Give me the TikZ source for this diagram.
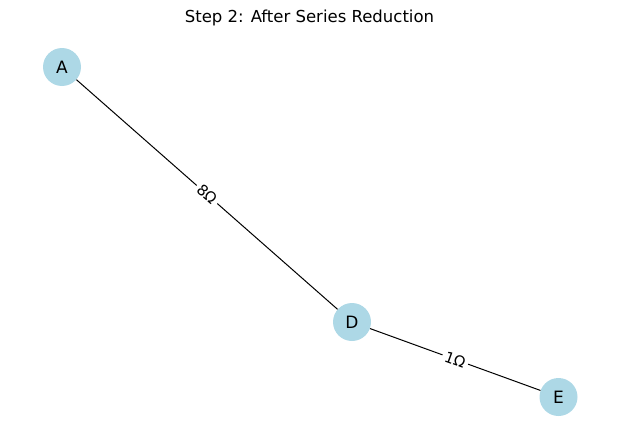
\documentclass[tikz,border=0pt]{standalone}
\usepackage{fontspec}
\setmainfont{DejaVu Sans}
\definecolor{nodeblue}{RGB}{173,216,230}
\begin{document}
\begin{tikzpicture}[x=1pt,y=-1pt,
  vertex/.style={circle,fill=nodeblue,minimum size=38pt,inner sep=0pt,font=\fontsize{17}{19}\selectfont},
  wire/.style={draw=black,line width=1pt},
  elabel/.style={fill=white,inner sep=3pt,font=\fontsize{15}{17}\selectfont}]
\useasboundingbox (0,0) rectangle (619,442);
\node (title) at (309.5,18) {\fontsize{16.5}{18}\selectfont Step 2: After Series Reduction};
\node[vertex] (A) at (62,67) {A};
\node[vertex] (D) at (352,322) {D};
\node[vertex] (E) at (558.5,397) {E};
\draw[wire] (A) -- (D) node[midway,sloped,elabel] {8Ω};
\draw[wire] (D) -- (E) node[midway,sloped,elabel] {1Ω};
\end{tikzpicture}
\end{document}
